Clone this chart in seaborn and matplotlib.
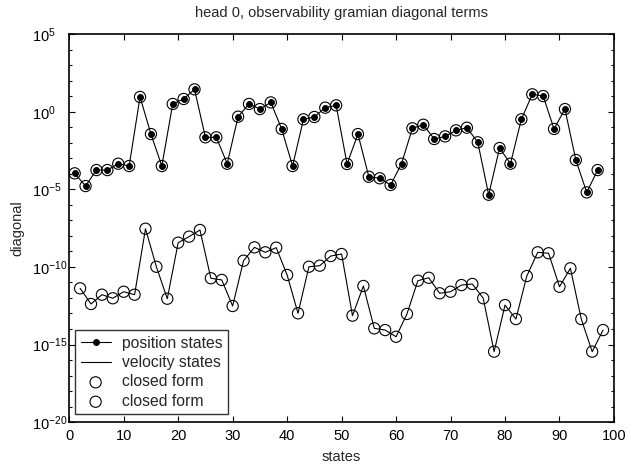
import numpy as np
import pandas as pd
import matplotlib
matplotlib.use("Agg")
import matplotlib.pyplot as plt
import seaborn as sns
from matplotlib.ticker import FixedLocator, NullFormatter

# states
pos_states = list(range(1, 98, 2))
vel_states = list(range(2, 99, 2))

# log10 of diagonal terms
pos_log = [-3.97, -4.79, -3.76, -3.76, -3.35, -3.5, 0.95, -1.44, -3.5, 0.5,
           0.82, 1.44, -1.65, -1.65, -3.35, -0.32, 0.5, 0.17, 0.6, -1.11,
           -3.5, -0.49, -0.34, 0.26, 0.41, -3.37, -1.44, -4.19, -4.29, -4.72,
           -3.35, -1.07, -0.84, -1.76, -1.59, -1.2, -1.03, -1.97, -5.35, -2.34,
           -3.35, -0.49, 1.12, 1.01, -1.11, 0.17, -3.11, -5.2, -3.76]
vel_log = [-11.38, -12.39, -11.79, -12.02, -11.6, -11.79, -7.54, -9.99, -12.05, -8.44,
           -8.05, -7.62, -10.73, -10.84, -12.52, -9.6, -8.74, -9.06, -8.76, -10.52,
           -12.99, -9.99, -9.92, -9.3, -9.17, -13.14, -11.23, -13.96, -14.07, -14.5,
           -13.03, -10.89, -10.7, -11.7, -11.6, -11.17, -11.1, -12.02, -15.46, -12.46,
           -13.36, -10.59, -9.06, -9.12, -11.28, -10.09, -13.36, -15.46, -14.07]

title = "head 0, observability gramian diagonal terms"
xlabel = "states"
ylabel = "diagonal"
x_ticks = list(range(0, 101, 10))
y_exponents = list(range(-20, 6, 5))

pos_df = pd.DataFrame({"state": pos_states, "diag": 10.0 ** np.array(pos_log)})
vel_df = pd.DataFrame({"state": vel_states, "diag": 10.0 ** np.array(vel_log)})

sns.set_style("ticks")
plt.rcParams["font.family"] = ["Liberation Sans", "DejaVu Sans"]
plt.rcParams["mathtext.fontset"] = "custom"
plt.rcParams["mathtext.rm"] = "Liberation Sans"
plt.rcParams["font.size"] = 10

fig = plt.figure(figsize=(6.31, 4.66), dpi=100)
ax = fig.add_axes([0.1097, 0.0942, 0.8633, 0.8326])

sns.lineplot(data=pos_df, x="state", y="diag", ax=ax, color="black", lw=0.8,
             marker="o", markersize=4.2, markeredgecolor="black",
             markerfacecolor="black", estimator=None, sort=False,
             label="position states")
sns.lineplot(data=vel_df, x="state", y="diag", ax=ax, color="black", lw=0.8,
             estimator=None, sort=False, label="velocity states")
sns.scatterplot(data=pos_df, x="state", y="diag", ax=ax, marker="o", s=65,
                facecolor="none", edgecolor="black", linewidth=0.8,
                label="closed form")
sns.scatterplot(data=vel_df, x="state", y="diag", ax=ax, marker="o", s=65,
                facecolor="none", edgecolor="black", linewidth=0.8,
                label="closed form")

ax.set_yscale("log")
ax.set_xlim(0, 100)
ax.set_ylim(1e-20, 1e5)
ax.set_xticks(x_ticks)
ax.set_xticklabels([str(t) for t in x_ticks])
ax.yaxis.set_major_locator(FixedLocator([10.0 ** e for e in y_exponents]))
ax.yaxis.set_minor_locator(FixedLocator([10.0 ** e for e in range(-20, 6)]))
ax.yaxis.set_minor_formatter(NullFormatter())
ax.set_yticklabels([r"$\mathregular{10^{%d}}$" % e for e in y_exponents])
for lab in ax.get_yticklabels():
    lab.set_horizontalalignment("left")

ax.tick_params(which="both", direction="in", top=True, right=True,
               labelsize=10.5, colors="black")
ax.tick_params(axis="y", which="major", pad=27)
ax.tick_params(axis="x", which="major", pad=5)
ax.tick_params(which="major", length=4, width=0.8)
ax.tick_params(which="minor", length=2.5, width=0.8)
for sp in ax.spines.values():
    sp.set_linewidth(1.2)
    sp.set_color("black")

ax.set_title(title, fontsize=10.5, pad=12)
ax.set_xlabel(xlabel, fontsize=10.5, labelpad=5)
ax.set_ylabel(ylabel, fontsize=10.5, labelpad=5)

leg = ax.legend(loc="lower left", bbox_to_anchor=(0.011, 0.02), frameon=True,
                fancybox=False, edgecolor="black", fontsize=11.3,
                handlelength=1.9, borderpad=0.35, labelspacing=0.28,
                handletextpad=0.7, borderaxespad=0.0)
leg.get_frame().set_linewidth(1.0)

fig.savefig("out.png", dpi=100)
